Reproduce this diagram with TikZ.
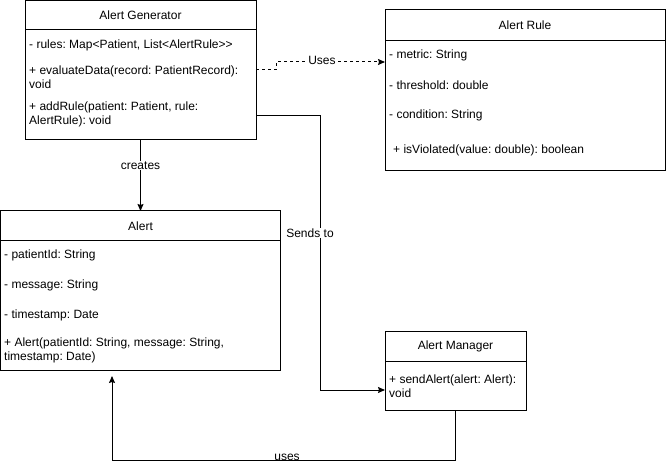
\documentclass[tikz,border=0pt]{standalone}
\usepackage{fontspec}
\setmainfont{Liberation Sans}
\usetikzlibrary{arrows.meta}
\frenchspacing
\begin{document}
\begin{tikzpicture}[x=1pt,y=-1pt,
  every node/.style={font=\fontsize{12}{14}\selectfont},
  classbox/.style={draw, line width=1pt, inner sep=0pt, outer sep=0pt, anchor=north west},
  title/.style={anchor=center},
  member/.style={anchor=west, align=left, inner sep=0pt},
  conn/.style={line width=1pt},
  arr/.style={conn, -{Stealth[length=7pt,width=6pt,inset=1pt]}},
  lbl/.style={fill=white, inner sep=1pt},
]
\useasboundingbox (0,0) rectangle (666,470);

% Alert Generator
\node[classbox, minimum width=231pt, minimum height=139.5pt] (gen) at (25,0.5) {};
\draw[line width=1pt] (gen.west |- 0,30) -- (gen.east |- 0,30);
\node[title] (genT) at (140.5,15) {Alert Generator};
\node[member] (genA) at (29,45) {- rules: Map<Patient, List<AlertRule>{}>};
\node[member] (genB) at (29,77) {+ evaluateData(record: PatientRecord):\\void};
\node[member] (genC) at (29,114) {+ addRule(patient: Patient, rule:\\AlertRule): void};

% Alert Rule
\node[classbox, minimum width=280.5pt, minimum height=161pt] (rule) at (385,10) {};
\draw[line width=1pt] (rule.west |- 0,41) -- (rule.east |- 0,41);
\node[title] (ruleT) at (525,25) {Alert Rule};
\node[member] (ruleA) at (389,55) {- metric: String};
\node[member] (ruleB) at (389,85) {- threshold: double};
\node[member] (ruleC) at (389,115) {- condition: String};
\node[member] (ruleD) at (393,150) {+ isViolated(value: double): boolean};

% Alert
\node[classbox, minimum width=280pt, minimum height=159pt] (alert) at (0.5,211) {};
\draw[line width=1pt] (alert.west |- 0,241) -- (alert.east |- 0,241);
\node[title] (alertT) at (140.5,226) {Alert};
\node[member] (alertA) at (4,255) {- patientId: String};
\node[member] (alertB) at (4,285) {- message: String};
\node[member] (alertC) at (4,315) {- timestamp: Date};
\node[member] (alertD) at (4,350) {+ Alert(patientId: String, message: String,\\timestamp: Date)};

% Alert Manager
\node[classbox, minimum width=141pt, minimum height=79pt] (mgr) at (385,331) {};
\draw[line width=1pt] (mgr.west |- 0,361) -- (mgr.east |- 0,361);
\node[title] (mgrT) at (455.5,346) {Alert Manager};
\node[member] (mgrA) at (389,386) {+ sendAlert(alert: Alert):\\void};

% creates
\draw[arr] (gen.south) -- (gen.south |- alert.north)
  node[lbl, pos=0.36] (lcreates) {creates};

% Uses (dashed)
\draw[arr, dash pattern=on 3pt off 3pt] (gen.east |- 0,70) -- (276,70) -- (276,62) -- (rule.west |- 0,62);
\node[lbl] (luses1) at (322,60) {Uses};

% Sends to
\coordinate (sendA) at (320.5,116);
\coordinate (sendB) at (320.5,390);
\draw[arr] (gen.east |- sendA) -- (sendA) -- (sendB) -- (mgr.west |- sendB);
\node[lbl] (lsends) at (310,233) {Sends to};

% uses (manager to alert)
\coordinate (useA) at (455.5,460.5);
\coordinate (useB) at (112,460.5);
\coordinate (useC) at (112,376);
\draw[arr] (mgr.south) -- (useA) -- (useB) -- (useC);
\node[fill=white, inner sep=0pt, anchor=base] (luses2) at (287,460) {uses};
\end{tikzpicture}
\end{document}
